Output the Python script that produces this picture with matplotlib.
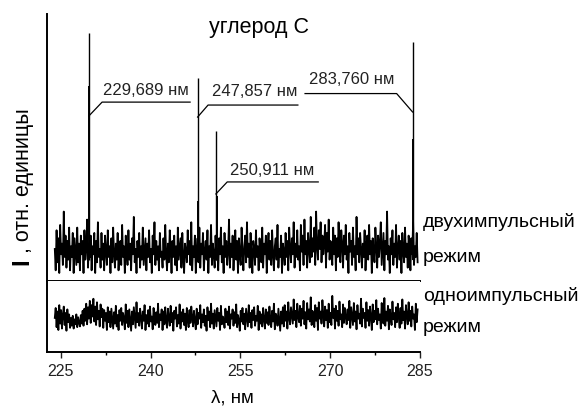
import numpy as np
import matplotlib
matplotlib.use("Agg")
import matplotlib.pyplot as plt
from matplotlib.ticker import MultipleLocator

plt.rcParams['font.family'] = ['Liberation Sans', 'DejaVu Sans']

# ---- data (relative units) ----
WL_START, WL_STEP = 224.0, 0.15

# two-pulse mode, background noise (0..100 = panel height)
TOP_NOISE = [
    12, 4, 19, 7, 16, 3, 21, 10, 14, 6, 26, 9, 17, 5, 15,
    8, 20, 4, 13, 9, 18, 3, 16, 11, 6, 20, 7, 14, 4, 17,
    10, 15, 3, 19, 8, 12, 23, 5, 14, 9, 17, 4, 13, 10, 18,
    3, 15, 7, 22, 9, 12, 5, 18, 8, 14, 4, 17, 11, 6, 19,
    9, 13, 3, 16, 7, 20, 10, 5, 14, 8, 18, 4, 12, 15, 6,
    21, 9, 13, 3, 17, 11, 6, 19, 8, 14, 4, 16, 10, 24, 7,
    12, 3, 15, 9, 18, 5, 13, 8, 20, 6, 11, 16, 4, 14, 9,
    19, 7, 12, 3, 17, 10, 22, 6, 15, 8, 13, 4, 18, 9, 11,
    5, 16, 8, 21, 10, 4, 14, 7, 19, 12, 3, 15, 9, 17, 6,
    13, 4, 20, 8, 12, 16, 5, 18, 9, 3, 14, 11, 7, 19, 10,
    15, 6, 22, 4, 13, 9, 17, 3, 12, 16, 7, 20, 5, 14, 10,
    18, 4, 11, 15, 8, 19, 3, 13, 9, 21, 6, 14, 10, 5, 17,
    8, 12, 4, 16, 10, 20, 7, 13, 3, 18, 9, 15, 6, 11, 23,
    5, 14, 9, 17, 4, 12, 19, 8, 15, 3, 16, 10, 6, 20, 11,
    4, 13, 17, 7, 22, 9, 14, 5, 18, 10, 3, 15, 12, 6, 19,
    9, 13, 4, 16, 11, 7, 20, 5, 14, 10, 17, 3, 12, 18, 8,
    15, 6, 19, 10, 4, 13, 16, 8, 21, 5, 12, 9, 17, 3, 14,
    11, 6, 18, 9, 15, 4, 20, 12, 7, 16, 10, 22, 5, 14, 9,
    19, 8, 13, 4, 21, 11, 17, 6, 23, 10, 15, 5, 18, 12, 7,
    24, 9, 16, 11, 20, 6, 26, 13, 8, 19, 12, 22, 7, 17, 10,
    14, 21, 5, 18, 11, 23, 8, 15, 13, 6, 20, 10, 17, 4, 16,
    9, 22, 12, 7, 19, 14, 5, 17, 10, 21, 8, 13, 3, 18, 11,
    15, 6, 20, 9, 13, 4, 24, 10, 16, 7, 18, 12, 5, 14, 9,
    19, 4, 13, 17, 8, 21, 10, 15, 3, 16, 11, 7, 20, 13, 5,
    17, 9, 14, 22, 6, 12, 18, 4, 15, 10, 26, 8, 13, 3, 16,
    10, 19, 6, 14, 9, 21, 5, 12, 17, 8, 15, 3, 18, 11, 7,
    20, 9, 14, 5, 17, 12, 4, 16, 10, 22, 6, 13, 9, 18, 7,
]

# carbon lines (nm): peak height and height of the broader lower part
PEAK_WL = [229.689, 247.857, 250.911, 283.760]
PEAK_LABELS = ["229,689 нм", "247,857 нм", "250,911 нм", "283,760 нм"]
PEAK_I = [93, 76, 56, 89.5]
SHOULDER_I = [73, 30, 32, 53]

# single-pulse mode, background noise
BOTTOM_NOISE = [
    48, 62, 35, 57, 31, 66, 40, 59, 33, 52, 64, 38, 55, 30, 60,
    42, 53, 34, 48, 37, 51, 33, 46, 39, 53, 35, 49, 41, 36, 52,
    40, 58, 37, 61, 44, 68, 39, 63, 47, 72, 41, 66, 50, 75, 43,
    64, 38, 70, 46, 58, 36, 67, 49, 61, 34, 59, 44, 55, 31, 63,
    42, 57, 35, 61, 47, 33, 56, 40, 65, 36, 52, 31, 59, 44, 62,
    38, 55, 47, 32, 67, 41, 58, 35, 60, 45, 30, 57, 39, 63, 48,
    34, 70, 42, 55, 37, 61, 48, 33, 57, 44, 66, 31, 52, 40, 59,
    36, 64, 43, 50, 32, 62, 46, 38, 56, 41, 68, 35, 53, 45, 60,
    31, 57, 39, 63, 44, 34, 61, 48, 37, 65, 42, 55, 30, 58, 47,
    63, 36, 52, 40, 67, 33, 56, 43, 60, 38, 54, 31, 62, 46, 35,
    59, 41, 64, 49, 36, 58, 44, 32, 61, 39, 55, 47, 66, 34, 53,
    42, 60, 37, 51, 30, 63, 45, 57, 35, 68, 40, 54, 33, 59, 48,
    36, 62, 44, 55, 31, 65, 39, 50, 46, 34, 61, 42, 57, 38, 64,
    33, 53, 47, 60, 37, 56, 41, 67, 35, 52, 44, 30, 58, 43, 62,
    39, 54, 32, 61, 48, 36, 66, 42, 55, 34, 59, 45, 63, 37, 51,
    44, 65, 31, 57, 40, 53, 36, 62, 46, 33, 60, 41, 56, 38, 64,
    47, 35, 58, 43, 68, 32, 54, 49, 37, 61, 45, 30, 57, 40, 63,
    36, 66, 44, 57, 33, 70, 48, 39, 63, 52, 40, 74, 45, 58, 35,
    68, 50, 42, 65, 37, 61, 47, 72, 39, 56, 33, 69, 46, 60, 43,
    77, 38, 58, 49, 35, 66, 44, 62, 31, 70, 47, 57, 40, 73, 52,
    36, 64, 45, 59, 34, 68, 42, 55, 38, 79, 48, 61, 33, 65, 44,
    58, 37, 71, 46, 53, 35, 67, 41, 62, 49, 39, 60, 45, 72, 34,
    63, 50, 38, 69, 43, 57, 32, 66, 47, 54, 40, 75, 36, 61, 48,
    55, 34, 70, 44, 59, 37, 64, 50, 31, 67, 42, 58, 46, 73, 39,
    61, 45, 53, 33, 69, 48, 40, 76, 37, 57, 44, 65, 32, 60, 50,
    38, 71, 46, 55, 35, 63, 42, 68, 49, 34, 62, 40, 74, 45, 57,
    33, 66, 51, 39, 70, 44, 58, 36, 64, 47, 53, 31, 68, 42, 60,
]

XTICKS = [225, 240, 255, 270, 285]

# ---- figure: 580x410 px ----
W, H = 580, 410
fig = plt.figure(figsize=(W / 100, H / 100), dpi=100)
fig.patch.set_facecolor("white")

def fx(px): return px / W
def fy(py): return 1 - py / H

ax_l, ax_r = 47, 420
ax_top = fig.add_axes([fx(ax_l), fy(282), fx(ax_r - ax_l), (282 - 15) / H])
ax_bot = fig.add_axes([fx(ax_l), fy(353), fx(ax_r - ax_l), (353 - 282) / H])

XLIM = (222.7, 285.0)
for ax in (ax_top, ax_bot):
    ax.set_xlim(*XLIM)
    ax.set_ylim(0, 100)
    ax.spines[["top", "right"]].set_visible(False)
    for s in ("left", "bottom"):
        ax.spines[s].set_linewidth(1.4)
    ax.set_yticks([])

# top spectrum: noise + emission lines
wl = WL_START + WL_STEP * np.arange(len(TOP_NOISE))
ax_top.plot(wl, TOP_NOISE, color="black", lw=1.3)
ax_top.vlines(PEAK_WL, 8, PEAK_I, color="black", lw=1.0)
ax_top.vlines(np.array(PEAK_WL) + 0.1, 8, SHOULDER_I, color="black", lw=1.4)
ax_top.set_xticks([])

wl_b = WL_START + WL_STEP * np.arange(len(BOTTOM_NOISE))
ax_bot.plot(wl_b, BOTTOM_NOISE, color="black", lw=1.3)
ax_bot.set_xticks(XTICKS)
ax_bot.xaxis.set_minor_locator(MultipleLocator(7.5))
ax_bot.tick_params(axis="x", which="major", direction="out", length=4, width=1.0,
                   labelsize=11.5, pad=4, colors="#222")
ax_bot.tick_params(axis="x", which="minor", direction="out", length=2.5, width=1.0)

# ---- annotations with leader lines ----
ann = [
    # elbow_x, shelf_y, shelf_end_x, start_y, text_x, text_y
    (231.9, 67.0, 246.6, 61.8, 232.1, 71.6),
    (249.6, 65.9, 264.6, 61.4, 250.3, 71.3),
    (252.8, 37.1, 268.0, 32.6, 253.3, 41.6),
    (281.1, 70.2, 265.8, 63.3, 266.5, 76.0),
]
for wlp, lab, (ex, sy, endx, y0, tx, ty) in zip(PEAK_WL, PEAK_LABELS, ann):
    ax_top.plot([wlp, ex, endx], [y0, sy, sy], color="black", lw=0.9)
    ax_top.text(tx, ty, lab, fontsize=12, ha="left", va="center", color="#222")

# ---- texts ----
fig.text(fx(259), fy(27), "углерод С", fontsize=15.5, ha="center", va="center")
fig.text(fx(232), fy(398), "λ, нм", fontsize=13.5, ha="center", va="center")

fig.text(fx(22), fy(262), "I", fontsize=17, fontweight="bold", rotation=90,
         ha="center", va="center")
fig.text(fx(24), fy(253), ", отн. единицы", fontsize=15.5, rotation=90,
         ha="center", va="bottom")

for lab, py in [("двухимпульсный", 222), ("режим", 258),
                ("одноимпульсный", 296), ("режим", 327)]:
    fig.text(fx(423), fy(py), lab, fontsize=14, ha="left", va="center")

fig.savefig("out.png", dpi=100, facecolor="white")
